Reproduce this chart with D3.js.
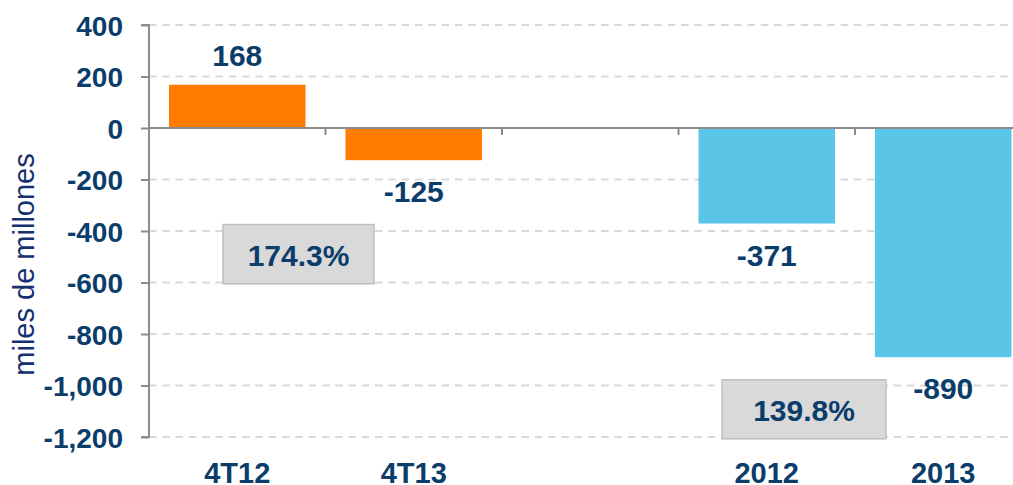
<!DOCTYPE html>
<html>
<head>
<meta charset="utf-8">
<script src="https://cdn.jsdelivr.net/npm/d3@7"></script>
<style>
  html, body { margin: 0; padding: 0; background: #fff; }
  svg { display: block; }
  text { font-family: "Liberation Sans", Arial, sans-serif; }
</style>
</head>
<body>
<svg id="chart" width="1013" height="485"></svg>
<script>
// ---- data ----
const categories = ["4T12", "4T13", "", "2012", "2013"];
const values = [168, -125, null, -371, -890];
const seriesColors = ["#FF7C00", "#FF7C00", null, "#5BC5E8", "#5BC5E8"];
const valueLabels = ["168", "-125", "", "-371", "-890"];
const yTicks = [400, 200, 0, -200, -400, -600, -800, -1000, -1200];
const yTitle = "miles de millones";
const boxLabels = ["174.3%", "139.8%"];
// box extents in data units
const boxY = [[-375, -605], [-978, -1207]];

// ---- layout ----
const svg = d3.select("#chart");
const navy = "#0B3D6B";
const plotLeft = 149, plotTop = 25, plotBottom = 437;
const step = 176.5;
const x = d3.scaleBand()
  .domain(categories.map((c, i) => i))
  .range([plotLeft, plotLeft + step * categories.length])
  .paddingInner(0.2266)
  .paddingOuter(0.1133);
const y = d3.scaleLinear().domain([-1200, 400]).range([plotBottom, plotTop]);

// gridlines
svg.append("g").selectAll("line")
  .data(yTicks.filter(d => d !== 0))
  .join("line")
  .attr("x1", plotLeft).attr("x2", 1013)
  .attr("y1", d => y(d)).attr("y2", d => y(d))
  .attr("stroke", "#d9d9d9").attr("stroke-width", 2)
  .attr("stroke-dasharray", "7.5,5.8");

// bars
const idx = d3.range(categories.length).filter(i => values[i] !== null);
svg.append("g").selectAll("rect")
  .data(idx)
  .join("rect")
  .attr("x", i => x(i))
  .attr("width", x.bandwidth())
  .attr("y", i => y(Math.max(0, values[i])))
  .attr("height", i => Math.abs(y(values[i]) - y(0)))
  .attr("fill", i => seriesColors[i]);

// zero axis line with category boundary ticks
const zeroY = y(0);
svg.append("line")
  .attr("x1", plotLeft).attr("x2", 1013)
  .attr("y1", zeroY).attr("y2", zeroY)
  .attr("stroke", "#8c8c8c").attr("stroke-width", 2);
svg.append("g").selectAll("line")
  .data(d3.range(1, categories.length))
  .join("line")
  .attr("x1", i => plotLeft + i * x.step()).attr("x2", i => plotLeft + i * x.step())
  .attr("y1", zeroY).attr("y2", zeroY + 7)
  .attr("stroke", "#8c8c8c").attr("stroke-width", 2);

// y axis
const fmt = d3.format(",d");
const yAxis = d3.axisLeft(y).tickValues(yTicks).tickSize(8).tickPadding(18)
  .tickFormat(d => fmt(d).replace("\u2212", "-"));
const gy = svg.append("g").attr("transform", `translate(${plotLeft},0)`).call(yAxis);
gy.select(".domain").attr("stroke", "#8c8c8c").attr("stroke-width", 2)
  .attr("d", `M-8,${plotTop}H0V${plotBottom}H-8`);
gy.selectAll(".tick line").attr("stroke", "#8c8c8c").attr("stroke-width", 2);
gy.selectAll(".tick text")
  .attr("fill", navy)
  .style("font-family", '"Liberation Sans", Arial, sans-serif')
  .style("font-size", "28px").style("font-weight", "bold")
  .attr("dy", "0.36em");

// y axis title
svg.append("text")
  .attr("transform", `translate(34,${(152 + 377) / 2}) rotate(-90)`)
  .attr("text-anchor", "middle")
  .attr("fill", "#14306E")
  .style("font-size", "29px")
  .text(yTitle);

// category labels
svg.append("g").selectAll("text")
  .data(d3.range(categories.length))
  .join("text")
  .attr("x", i => x(i) + x.bandwidth() / 2)
  .attr("y", 483)
  .attr("text-anchor", "middle")
  .attr("fill", navy)
  .style("font-size", "29px").style("font-weight", "bold")
  .text(i => categories[i]);

// value labels
svg.append("g").selectAll("text")
  .data(idx)
  .join("text")
  .attr("x", i => x(i) + x.bandwidth() / 2)
  .attr("y", i => values[i] >= 0 ? y(values[i]) - 19 : y(values[i]) + 42)
  .attr("text-anchor", "middle")
  .attr("fill", navy)
  .style("font-size", "30px").style("font-weight", "bold")
  .text(i => valueLabels[i]);

// annotation boxes
const boxX = [[223, 374], [722, 886]];
boxLabels.forEach((lab, k) => {
  const x0 = boxX[k][0], x1 = boxX[k][1];
  const y0 = y(boxY[k][0]), y1 = y(boxY[k][1]);
  svg.append("rect")
    .attr("x", x0).attr("y", y0)
    .attr("width", x1 - x0).attr("height", y1 - y0)
    .attr("fill", "#d9d9d9").attr("stroke", "#bfbfbf").attr("stroke-width", 1.5);
  svg.append("text")
    .attr("x", (x0 + x1) / 2).attr("y", (y0 + y1) / 2 + 12)
    .attr("text-anchor", "middle")
    .attr("fill", navy)
    .style("font-size", "30px").style("font-weight", "bold")
    .text(lab);
});
</script>
</body>
</html>
